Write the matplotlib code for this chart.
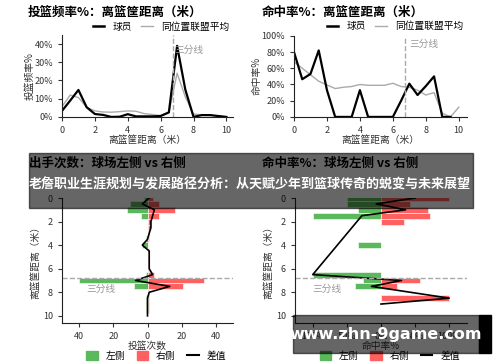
import numpy as np
import matplotlib
matplotlib.use("Agg")
import matplotlib.pyplot as plt
from matplotlib.patches import Rectangle, Patch
from matplotlib.lines import Line2D

plt.rcParams['font.family'] = ['Noto Sans CJK SC', 'DejaVu Sans']
plt.rcParams['axes.unicode_minus'] = False

# distance bins (m)
dist = np.arange(0, 10.5, 0.5)

# shot frequency % by distance
freq_player = [3.3, 9, 14.8, 5.3, 1.6, 1.1, 0, 0.1, 1.5, 0.3, 0.3, 0.3, 0.5, 2.5,
               39, 15, 0, 1, 1, 0.5, 0]
freq_league = [5.7, 12, 10.6, 5.3, 3.3, 2.7, 2.6, 2.9, 3.3, 3.1, 1.8, 1.3, 0.7, 2.4,
               24, 11, 1.6, 1.1, 1.1, 0.4, 0]

# FG% by distance
fg_dist_player = [80, 46.5, 53, 82, 33, 0, 0, 0, 33, 0, 0, 0, 0, 20,
                  41, 27, 38, 50, 0, 0]
fg_dist_league = [68, 60, 52, 44, 39.5, 35, 36.6, 37.5, 40, 39, 39, 39, 41.5, 37.5,
                  36.6, 33, 27, 30, 4.5, 0, 12]

# attempts, left vs right side
att_left = [2, 10, 12, 4, 0, 0, 0, 1, 3, 0, 0, 0, 0, 1, 40, 8, 0, 1, 1, 1, 0]
att_right = [3, 7, 16, 7, 2, 2, 1, 1, 0, 1, 1, 1, 1, 4, 33, 21, 1, 1, 1, 1, 0]

# FG%, left vs right side (nan = no attempts)
nan = np.nan
fg_left = [50, 50, 33, 100, nan, nan, nan, nan, 33, nan, nan, nan, nan, 100,
           27, 38, nan, 0, 0, nan, nan]
fg_right = [100, 43, 69, 72, 33, nan, nan, nan, nan, nan, nan, nan, nan, 0,
            57, 24, nan, 100, 0, nan, nan]

three_pt = 6.75
GREEN = '#5cb85c'
RED = '#ff6060'
TXT = '#333333'
tick_fs = 6.5

fig = plt.figure(figsize=(5, 3.62), dpi=100)


def style(ax):
    for s in ['top', 'right']:
        ax.spines[s].set_visible(False)
    ax.tick_params(labelsize=tick_fs, colors=TXT, length=3, width=0.8)
    for s in ['left', 'bottom']:
        ax.spines[s].set_color('#222222')


top_leg = [Line2D([], [], color='black', lw=1.8, label='球员'),
           Line2D([], [], color='#aaaaaa', lw=1, label='同位置联盟平均')]

# --- top left: frequency
ax1 = fig.add_axes([0.124, 0.677, 0.342, 0.2265])
ax1.plot(dist, freq_league, color='#aaaaaa', lw=1)
ax1.plot(dist, freq_player, color='black', lw=1.6)
ax1.axvline(three_pt, color='#aaaaaa', ls='--', lw=1)
ax1.text(three_pt + 0.1, 37, '三分线', color='#999999', fontsize=7, va='center')
ax1.set_xlim(0, 10.4)
ax1.set_ylim(0, 45)
ax1.set_xticks(range(0, 11, 2))
ax1.set_yticks(range(0, 41, 10))
ax1.set_yticklabels([f'{v}%' for v in range(0, 41, 10)])
ax1.set_xlabel('离篮筐距离（米）', fontsize=7, color=TXT, labelpad=0)
ax1.set_ylabel('投篮频率%', fontsize=7, color=TXT, labelpad=0)
style(ax1)
ax1.legend(handles=top_leg, loc='center right', bbox_to_anchor=(1.0, 1.1), ncol=2,
           frameon=False, fontsize=7, handlelength=1.2, columnspacing=1, borderaxespad=0)

# --- top right: FG% by distance
ax2 = fig.add_axes([0.588, 0.677, 0.346, 0.224])
ax2.plot(dist, fg_dist_league, color='#aaaaaa', lw=1)
ax2.plot(dist[:len(fg_dist_player)], fg_dist_player, color='black', lw=1.6)
ax2.axvline(three_pt, color='#aaaaaa', ls='--', lw=1)
ax2.text(three_pt + 0.25, 90, '三分线', color='#999999', fontsize=7, va='center')
ax2.set_xlim(0, 10.5)
ax2.set_ylim(0, 100)
ax2.set_xticks(range(0, 11, 2))
ax2.set_yticks(range(0, 101, 20))
ax2.set_yticklabels([f'{v}%' for v in range(0, 101, 20)])
ax2.set_xlabel('离篮筐距离（米）', fontsize=7, color=TXT, labelpad=0)
ax2.set_ylabel('命中率%', fontsize=7, color=TXT, labelpad=0)
style(ax2)
ax2.legend(handles=top_leg, loc='center right', bbox_to_anchor=(1.0, 1.12), ncol=2,
           frameon=False, fontsize=7, handlelength=1.2, columnspacing=1, borderaxespad=0)

# --- bottom left: attempts left vs right
ax3 = fig.add_axes([0.124, 0.108, 0.342, 0.345])
L = np.array(att_left, float)
R = np.array(att_right, float)
ax3.barh(dist, -L, height=0.5, color=GREEN, edgecolor='white', lw=0.4)
ax3.barh(dist, R, height=0.5, color=RED, edgecolor='white', lw=0.4)
ax3.plot(R - L, dist, color='black', lw=1.2)
ax3.axhline(three_pt, color='#aaaaaa', ls='--', lw=1)
ax3.text(-36, 7.75, '三分线', color='#999999', fontsize=7, va='center')
ax3.set_xlim(-50, 50)
ax3.set_ylim(10.6, 0)
ax3.set_xticks([-40, -20, 0, 20, 40])
ax3.set_xticklabels(['40', '20', '0', '20', '40'])
ax3.set_yticks(range(0, 11, 2))
ax3.set_xlabel('投篮次数', fontsize=7, color=TXT, labelpad=0)
ax3.set_ylabel('离篮筐距离（米）', fontsize=7, color=TXT, labelpad=2)
style(ax3)
leg_h = [Patch(color=GREEN, label='左侧'), Patch(color=RED, label='右侧'),
         Line2D([], [], color='black', lw=1.5, label='差值')]
ax3.legend(handles=leg_h, loc='upper center', bbox_to_anchor=(0.55, -0.19), ncol=3,
           frameon=False, fontsize=7, handlelength=1.2, handleheight=1.0,
           columnspacing=1.2, borderaxespad=0)

# --- bottom right: FG% left vs right
ax4 = fig.add_axes([0.59, 0.108, 0.344, 0.345])
fl = np.array(fg_left, float)
fr = np.array(fg_right, float)
ax4.barh(dist, -np.nan_to_num(fl), height=0.5, color=GREEN, edgecolor='white', lw=0.4)
ax4.barh(dist, np.nan_to_num(fr), height=0.5, color=RED, edgecolor='white', lw=0.4)
both = ~np.isnan(fl) & ~np.isnan(fr)
ax4.plot((fr - fl)[both], dist[both], color='black', lw=1.2)
ax4.axhline(three_pt, color='#aaaaaa', ls='--', lw=1)
ax4.text(-100, 7.75, '三分线', color='#999999', fontsize=7, va='center')
ax4.set_xlim(-126, 126)
ax4.set_ylim(10.6, 0)
ax4.set_xticks([-100, -50, 0, 50, 100])
ax4.set_xticklabels(['100%', '50%', '0%', '50%', '100%'])
ax4.set_yticks(range(0, 11, 2))
ax4.set_xlabel('命中率%', fontsize=7, color=TXT, labelpad=0)
ax4.set_ylabel('离篮筐距离（米）', fontsize=7, color=TXT, labelpad=2)
style(ax4)
ax4.legend(handles=leg_h, loc='upper center', bbox_to_anchor=(0.55, -0.19), ncol=3,
           frameon=False, fontsize=7, handlelength=1.2, handleheight=1.0,
           columnspacing=1.2, borderaxespad=0)


# titles
def px(x, y):
    return x / 500, 1 - y / 362


fig.text(*px(28, 12), '投篮频率%：离篮筐距离（米）', fontsize=9, weight='bold', va='center')
fig.text(*px(262, 12), '命中率%：离篮筐距离（米）', fontsize=9, weight='bold', va='center')
fig.text(*px(29, 163), '出手次数：球场左侧 vs 右侧', fontsize=9, weight='bold', va='center')
fig.text(*px(262, 163), '命中率%：球场左侧 vs 右侧', fontsize=9, weight='bold', va='center')

# overlay banners
fig.patches.append(Rectangle(px(29, 208), 444 / 500, 55 / 362, transform=fig.transFigure,
                             color='black', alpha=0.6, zorder=10))
fig.text(*px(29, 185), '老詹职业生涯规划与发展路径分析：从天赋少年到篮球传奇的蜕变与未来展望',
         fontsize=9.4, weight='bold', color='white', va='center', zorder=11)
fig.patches.append(Rectangle(px(293, 353), 186 / 500, 38 / 362, transform=fig.transFigure,
                             color='black', alpha=0.6, zorder=10))
fig.patches.append(Rectangle(px(479, 353), 12 / 500, 38 / 362, transform=fig.transFigure,
                             color='black', zorder=10))
fig.text(*px(386, 334), 'www.zhn-9game.com', fontsize=11.5, weight='bold', color='white',
         ha='center', va='center', zorder=11, family='DejaVu Sans')

fig.savefig('out.png', dpi=100)
